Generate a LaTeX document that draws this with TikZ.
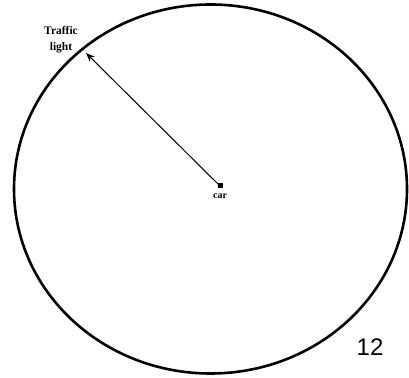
\documentclass[tikz,border=0pt]{standalone}
\usepackage{fontspec}
\setmainfont{Liberation Serif}
\newfontfamily\numfont{Liberation Sans}
\usetikzlibrary{arrows.meta}
\begin{document}
\begin{tikzpicture}[x=1pt,y=1pt,
  lbl/.style={font=\bfseries\fontsize{11.5}{16}\selectfont, align=center, inner sep=0pt},
  ring/.style={line width=2.6pt},
  ray/.style={line width=1pt,-{Stealth[length=9pt,width=7pt]}}]
\useasboundingbox (0,0) rectangle (409,377);
\draw[ring] (210.5,188) ellipse [x radius=196.5, y radius=184.5];
\node[fill, minimum size=5pt, inner sep=0pt] (car) at (220,191) {};
\node[lbl, font=\fontsize{10}{12}\selectfont\bfseries] (carlbl) at (220,181) {car};
\coordinate (tip) at (86,324);
\draw[ray] (car.center) -- (tip);
\node[lbl] (tl) at (61,337) {Traffic\\light};
\node[font=\numfont\fontsize{24}{28}\selectfont, inner sep=0pt] (num) at (370,30) {12};
\end{tikzpicture}
\end{document}
